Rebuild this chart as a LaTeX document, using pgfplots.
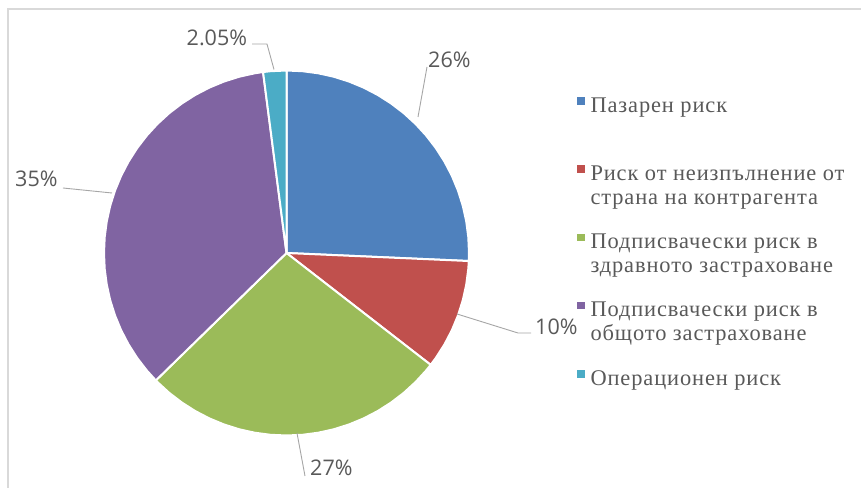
\documentclass[border=0pt]{standalone}
\usepackage{fontspec}
\setmainfont{Liberation Serif}
\newfontfamily\legfont[LetterSpace=4]{Liberation Serif}
\newfontfamily\pctfont{Open Sans}
\usepackage{pgfplots}
\pgfplotsset{compat=1.18}
\usepgfplotslibrary{polar}
\definecolor{cBlue}{HTML}{4F81BD}
\definecolor{cRed}{HTML}{C0504D}
\definecolor{cGreen}{HTML}{9BBB59}
\definecolor{cPurple}{HTML}{8064A2}
\definecolor{cCyan}{HTML}{4BACC6}
\definecolor{cText}{HTML}{595959}
\definecolor{cLead}{HTML}{A6A6A6}
\definecolor{cFrame}{HTML}{D9D9D9}
\newcommand{\two}[2]{\begin{tabular}[t]{@{}l@{}}#1\\#2\end{tabular}}
\begin{document}
\begin{tikzpicture}
\path[use as bounding box, fill=white] (0,0) rectangle (861bp,488bp);
% shares (%): 25.7, 9.8, 27.2, 35.25, 2.05 -> wedge boundary angles (deg, clockwise from 90)
\begin{polaraxis}[
  at={(286.5bp,235bp)}, anchor=center,
  scale only axis, width=365bp, height=365bp,
  xmin=0, xmax=360, ymin=0, ymax=1,
  hide axis, clip=false,
  every axis plot/.append style={draw=white, line width=2bp, line join=round},
  legend image code/.code={\fill[#1,draw=none] (0bp,7.5bp) rectangle (7.5bp,15bp);},
  legend cell align=left,
  legend style={at={(axis description cs:1.2959,0.9274)}, anchor=north west,
    draw=none, fill=none, inner sep=0pt, outer sep=0pt, row sep=0pt, column sep=6bp,
    nodes={anchor=base west, inner sep=0pt, outer sep=0pt, text=cText, text height=15bp, text depth=53.3bp,
      font=\legfont\fontsize{22.5}{24}\selectfont}},
]
\addplot[fill=cBlue] coordinates {(0,0) (90,1) (85,1) (80,1) (75,1) (70,1) (65,1) (60,1) (55,1) (50,1) (45,1) (40,1) (35,1) (30,1) (25,1) (20,1) (15,1) (10,1) (5,1) (0,1) (-2.52,1) (0,0)};
\addlegendentry{Пазарен риск}
\addplot[fill=cRed] coordinates {(0,0) (-2.52,1) (-5,1) (-10,1) (-15,1) (-20,1) (-25,1) (-30,1) (-35,1) (-37.8,1) (0,0)};
\addlegendentry{\two{Риск от неизпълнение от}{страна на контрагента}}
\addplot[fill=cGreen] coordinates {(0,0) (-37.8,1) (-40,1) (-45,1) (-50,1) (-55,1) (-60,1) (-65,1) (-70,1) (-75,1) (-80,1) (-85,1) (-90,1) (-95,1) (-100,1) (-105,1) (-110,1) (-115,1) (-120,1) (-125,1) (-130,1) (-135,1) (-135.72,1) (0,0)};
\addlegendentry{\two{Подписвачески риск в}{здравното застраховане}}
\addplot[fill=cPurple] coordinates {(0,0) (-135.72,1) (-140,1) (-145,1) (-150,1) (-155,1) (-160,1) (-165,1) (-170,1) (-175,1) (-180,1) (-185,1) (-190,1) (-195,1) (-200,1) (-205,1) (-210,1) (-215,1) (-220,1) (-225,1) (-230,1) (-235,1) (-240,1) (-245,1) (-250,1) (-255,1) (-260,1) (-262.62,1) (0,0)};
\addlegendentry{\two{Подписвачески риск в}{общото застраховане}}
\addplot[fill=cCyan] coordinates {(0,0) (-262.62,1) (-265,1) (-270,1) (0,0)};
\addlegendentry{Операционен риск}
\end{polaraxis}
\begin{scope}[x=1bp, y=-1bp, shift={(0bp,488bp)}]
  \draw[cFrame, line width=2bp] (8,488) -- (8,9) -- (861,9);
  \draw[cLead, line width=0.9bp] (252,44) -- (267,44) -- (274,69.5);
  \draw[cLead, line width=0.9bp] (418,117) -- (427,67);
  \draw[cLead, line width=0.9bp] (63,188) -- (112,193);
  \draw[cLead, line width=0.9bp] (457,314) -- (518,333) -- (531,333);
  \draw[cLead, line width=0.9bp] (297,433) -- (305,476);
  \tikzset{pct/.style={anchor=base west, inner sep=0pt, text=cText, font=\pctfont\fontsize{21.6}{25}\selectfont}}
  \node[pct] at (186.5,46) {2.05\%};
  \node[pct] at (428,68) {26\%};
  \node[pct] at (15,187) {35\%};
  \node[pct] at (535,335) {10\%};
  \node[pct] at (310,476) {27\%};
\end{scope}
\end{tikzpicture}
\end{document}
